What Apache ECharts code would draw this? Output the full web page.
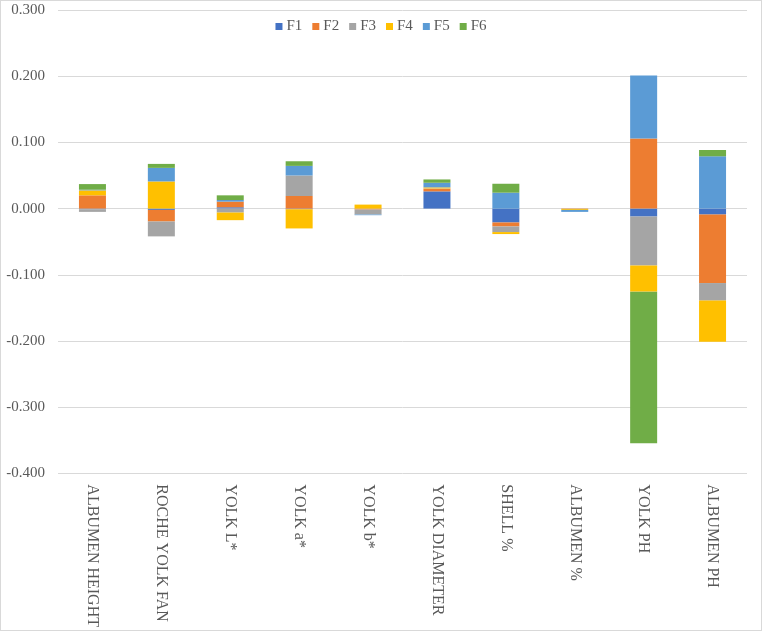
<!DOCTYPE html>
<html>
<head>
<meta charset="utf-8">
<title>Factor loadings</title>
<script src="https://cdn.jsdelivr.net/npm/echarts@6/dist/echarts.min.js"></script>
<style>
  html, body { margin: 0; padding: 0; background: #fff; }
  .chart-box {
    width: 762px;
    height: 631px;
    box-sizing: border-box;
    border: 1px solid #d9d9d9;
  }
</style>
</head>
<body>
<div class="chart-box"><div id="main" style="width: 100%; height: 100%;"></div></div>
<script>
const categories = ['ALBUMEN HEIGHT', 'ROCHE YOLK FAN', 'YOLK L*', 'YOLK a*', 'YOLK b*', 'YOLK DIAMETER', 'SHELL %', 'ALBUMEN %', 'YOLK PH', 'ALBUMEN PH']
const seriesNames = ['F1', 'F2', 'F3', 'F4', 'F5', 'F6']
const f1 = [-0.001, -0.002, 0.002, -0.001, 0, 0.026, -0.021, 0, -0.012, -0.009]
const f2 = [0.020, -0.0175, 0.0085, 0.019, -0.0015, 0.004, -0.006, -0.0005, 0.106, -0.1035]
const f3 = [-0.004, -0.0225, -0.006, 0.031, -0.0075, 0.0005, -0.0085, 0, -0.074, -0.0265]
const f4 = [0.0075, 0.041, -0.0115, -0.029, 0.006, 0.0015, -0.003, -0.0015, -0.0395, -0.062]
const f5 = [0.001, 0.0205, 0.0025, 0.0145, -0.001, 0.007, 0.024, -0.003, 0.095, 0.079]
const f6 = [0.0085, 0.006, 0.007, 0.007, 0, 0.005, 0.0135, 0, -0.229, 0.0095]
const allValues = [f1, f2, f3, f4, f5, f6]

const fontFamily = '"Liberation Serif", "Times New Roman", serif'
const textColor = '#595959'

const chart = echarts.init(document.getElementById('main'))

const option = {
  color: ['#4472C4', '#ED7D31', '#A5A5A5', '#FFC000', '#5B9BD5', '#70AD47'],
  animation: false,
  legend: {
    top: 13,
    left: 'center',
    icon: 'rect',
    itemWidth: 7,
    itemHeight: 7,
    itemGap: 10,
    textStyle: { fontFamily: fontFamily, fontSize: 15, color: textColor, padding: [0, 0, 0, -1] }
  },
  grid: {
    left: 57,
    right: 14,
    top: 9,
    bottom: 155
  },
  xAxis: {
    type: 'category',
    data: categories,
    axisLine: { show: false },
    axisTick: { show: false },
    axisLabel: {
      rotate: -90,
      interval: 0,
      margin: 11,
      fontFamily: fontFamily,
      fontSize: 16,
      color: textColor
    }
  },
  yAxis: {
    type: 'value',
    min: -0.4,
    max: 0.3,
    interval: 0.1,
    axisLine: { show: false },
    axisTick: { show: false },
    splitLine: { lineStyle: { color: '#d9d9d9', width: 1 } },
    axisLabel: {
      margin: 13,
      fontFamily: fontFamily,
      fontSize: 15,
      color: textColor,
      formatter: function (val) {
        return (Math.round(val * 1000) / 1000).toFixed(3)
      }
    }
  },
  series: seriesNames.map((name, i) => {
    return {
      name: name,
      type: 'bar',
      stack: 'total',
      barWidth: 27,
      data: allValues[i]
    }
  })
}

chart.setOption(option)
</script>
</body>
</html>
